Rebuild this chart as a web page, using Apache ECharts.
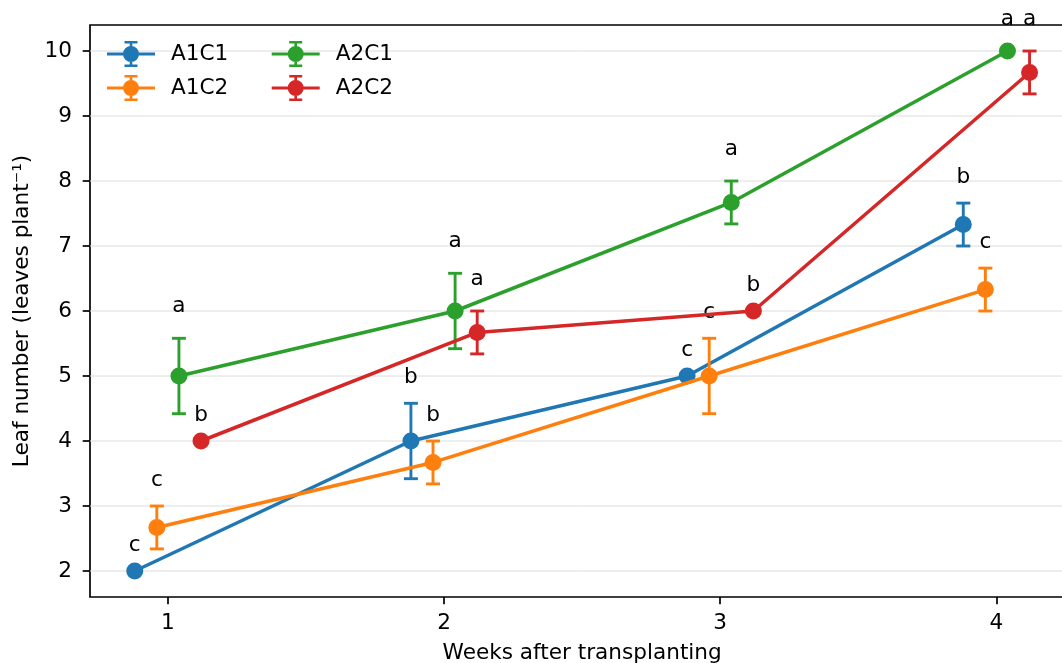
<!DOCTYPE html>
<html><head><meta charset="utf-8">
<script src="https://cdn.jsdelivr.net/npm/echarts@6/dist/echarts.min.js"></script>
<style>html,body{margin:0;padding:0;background:#fff;}#c{width:1062px;height:663px;}</style>
</head><body><div id="c"></div>
<script>
// ---- data ----
const weeks = [1, 2, 3, 4];
const xTicks = [1, 2, 3, 4];
const yTicks = [2, 3, 4, 5, 6, 7, 8, 9, 10];
const seriesNames = ['A1C1', 'A1C2', 'A2C1', 'A2C2'];
const dodge = [-0.12, -0.04, 0.04, 0.12];
const A1C1_mean = [2.00, 4.00, 5.00, 7.33];
const A1C1_err  = [0.00, 0.58, 0.00, 0.33];
const A1C1_let  = ['c', 'b', 'c', 'b'];
const A1C2_mean = [2.67, 3.67, 5.00, 6.33];
const A1C2_err  = [0.33, 0.33, 0.58, 0.33];
const A1C2_let  = ['c', 'b', 'c', 'c'];
const A2C1_mean = [5.00, 6.00, 7.67, 10.00];
const A2C1_err  = [0.58, 0.58, 0.33, 0.00];
const A2C1_let  = ['a', 'a', 'a', 'a'];
const A2C2_mean = [4.00, 5.67, 6.00, 9.67];
const A2C2_err  = [0.00, 0.33, 0.00, 0.33];
const A2C2_let  = ['b', 'a', 'b', 'a'];

const means = [A1C1_mean, A1C2_mean, A2C1_mean, A2C2_mean];
const errs = [A1C1_err, A1C2_err, A2C1_err, A2C2_err];
const lets = [A1C1_let, A1C2_let, A2C1_let, A2C2_let];
const colors = ['#1f77b4', '#ff7f0e', '#2ca02c', '#d62728'];
const letterGap = { a: 21, b: 15, c: 15 };
const FONT = 'DejaVu Sans';
const FS = 21.6;

const ICON = 'path://M0 11.5 L48 11.5 L48 14.5 L0 14.5 Z ' +
  'M16 13 A8 8 0 1 1 32 13 A8 8 0 1 1 16 13 Z ' +
  'M22.7 1 L25.3 1 L25.3 25 L22.7 25 Z ' +
  'M17.5 0 L30.5 0 L30.5 2.6 L17.5 2.6 Z ' +
  'M17.5 23.4 L30.5 23.4 L30.5 26 L17.5 26 Z';

function errRenderer(ci) {
  const color = colors[ci];
  return function (params, api) {
    const x = api.value(0), m = api.value(1), e = api.value(2);
    const pT = api.coord([x, m + e]);
    const pB = api.coord([x, m - e]);
    const ch = [];
    if (e > 0) {
      const st = { stroke: color, lineWidth: 2.9 };
      ch.push({ type: 'line', shape: { x1: pT[0], y1: pT[1], x2: pB[0], y2: pB[1] }, style: st });
      ch.push({ type: 'line', shape: { x1: pT[0] - 7, y1: pT[1], x2: pT[0] + 7, y2: pT[1] }, style: st });
      ch.push({ type: 'line', shape: { x1: pB[0] - 7, y1: pB[1], x2: pB[0] + 7, y2: pB[1] }, style: st });
    }
    const L = lets[ci][params.dataIndex];
    ch.push({ type: 'text', x: pT[0], y: pT[1] - letterGap[L],
      style: { text: L, fill: '#000', fontSize: FS, fontFamily: FONT,
               align: 'center', verticalAlign: 'bottom' } });
    return { type: 'group', children: ch };
  };
}

const series = [];
// gridlines
series.push({
  type: 'custom', name: 'grid', z: 0, silent: true, clip: false,
  data: yTicks.map(v => [v]),
  encode: { y: 0 },
  renderItem: function (params, api) {
    const y = api.coord([1, api.value(0)])[1];
    const cs = params.coordSys;
    return { type: 'line', shape: { x1: cs.x, y1: y, x2: cs.x + cs.width, y2: y },
             style: { stroke: '#dcdcdc', lineWidth: 1 } };
  }
});
for (let i = 0; i < 4; i++) {
  const pts = weeks.map((w, k) => [w + dodge[i], means[i][k], errs[i][k]]);
  series.push({
    type: 'custom', name: seriesNames[i] + ' err', z: 10 + i * 2, clip: false, silent: true,
    data: pts, encode: { x: 0, y: 1 },
    renderItem: errRenderer(i)
  });
  series.push({
    type: 'line', name: seriesNames[i], z: 11 + i * 2, silent: true,
    data: pts.map(p => [p[0], p[1]]),
    symbol: 'circle', symbolSize: 17, showSymbol: true, showAllSymbol: true,
    lineStyle: { color: colors[i], width: 3.5 },
    itemStyle: { color: colors[i], borderWidth: 0 },
    emphasis: { disabled: true }, animation: false
  });
}

const legendCommon = {
  orient: 'vertical', top: 41, itemWidth: 48, itemHeight: 26, itemGap: 8,
  padding: 0, icon: ICON, selectedMode: false,
  itemStyle: { borderWidth: 0 },
  textStyle: { fontSize: FS, fontFamily: FONT, color: '#000', padding: [0, 0, 0, 11] }
};

const option = {
  animation: false,
  backgroundColor: '#fff',
  grid: { left: 90, top: 25, width: 984.3, height: 572, show: true, borderColor: '#000', borderWidth: 1.7,
          backgroundColor: 'transparent', outerBoundsMode: 'none', containLabel: false },
  legend: [
    Object.assign({}, legendCommon, { data: ['A1C1', 'A1C2'], left: 107 }),
    Object.assign({}, legendCommon, { data: ['A2C1', 'A2C2'], left: 271.7 })
  ],
  xAxis: {
    type: 'value', min: 0.718, max: 4.282,
    name: 'Weeks after transplanting', nameLocation: 'middle', nameGap: 45,
    nameTextStyle: { fontSize: FS, fontFamily: FONT, color: '#000' },
    axisLine: { show: false },
    splitLine: { show: false },
    axisTick: { show: true, customValues: xTicks, length: 7.3, lineStyle: { color: '#000', width: 1.7 } },
    axisLabel: { customValues: xTicks, margin: 15, fontSize: FS, fontFamily: FONT, color: '#000' }
  },
  yAxis: {
    type: 'value', min: 1.6, max: 10.4,
    name: 'Leaf number (leaves plant\u207B\u00B9)', nameLocation: 'middle', nameGap: 56,
    nameTextStyle: { fontSize: FS, fontFamily: FONT, color: '#000' },
    axisLine: { show: false },
    splitLine: { show: false },
    axisTick: { show: true, customValues: yTicks, length: 7.3, lineStyle: { color: '#000', width: 1.7 } },
    axisLabel: { customValues: yTicks, margin: 18, fontSize: FS, fontFamily: FONT, color: '#000' }
  },
  series: series
};
const chart = echarts.init(document.getElementById('c'), null, { renderer: 'canvas' });
chart.setOption(option);
</script></body></html>
